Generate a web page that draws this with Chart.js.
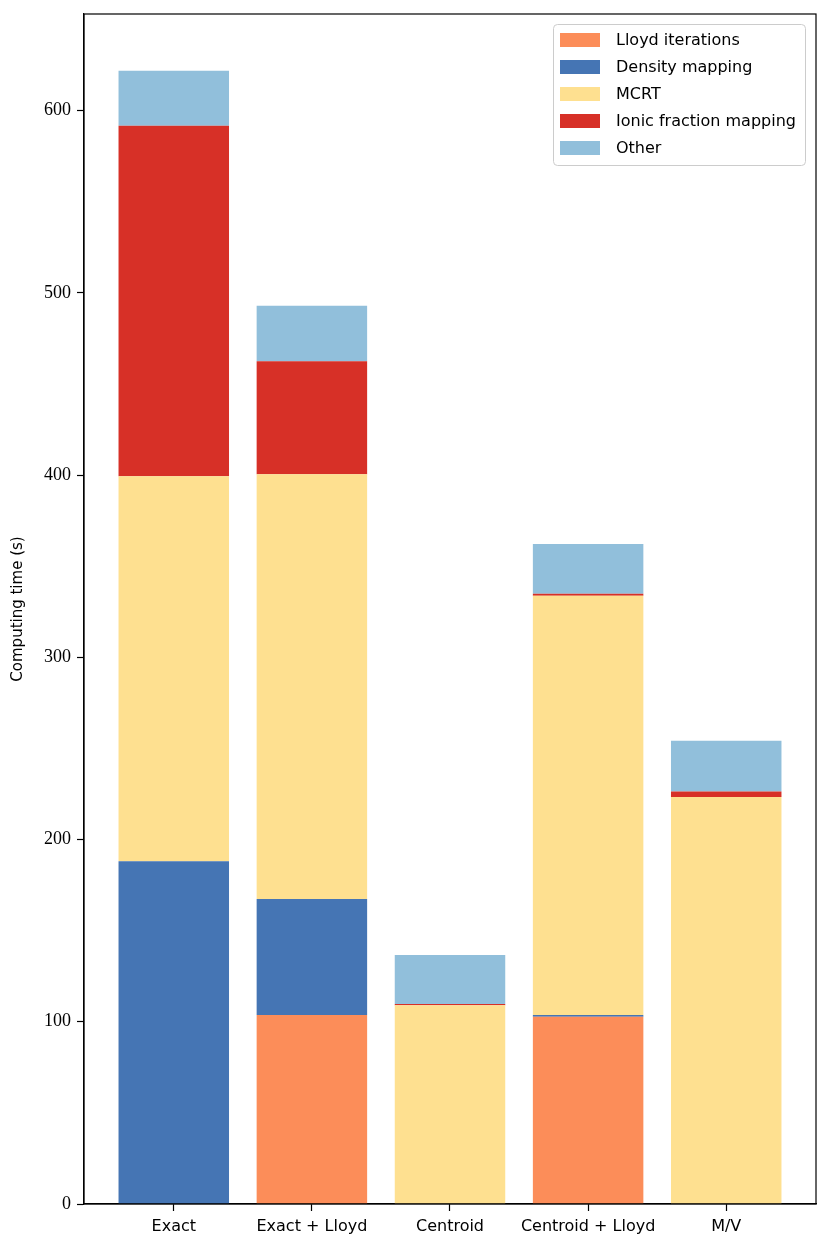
<!DOCTYPE html>
<html>
<head>
<meta charset="utf-8">
<script src="https://cdn.jsdelivr.net/npm/chart.js@4.4.0/dist/chart.umd.min.js"></script>
<style>
  html, body { margin: 0; padding: 0; background: #fff; }
  #chart { display: block; }
</style>
</head>
<body>
<canvas id="chart" width="830" height="1252"></canvas>
<script>
// categories along x
var categories = ["Exact", "Exact + Lloyd", "Centroid", "Centroid + Lloyd", "M/V"];

// computing time per stage (s), bottom to top
var lloydIterations = [0, 103.7, 0, 102.7, 0];
var densityMapping = [188.1, 63.7, 0.3, 1.0, 0];
var mcrt = [211.2, 233.1, 108.7, 230.1, 223.3];
var ionicFractionMapping = [192.4, 61.9, 0.8, 1.1, 3.0];
var other = [30.2, 30.5, 26.9, 27.2, 27.9];

var yTicks = [0, 100, 200, 300, 400, 500, 600];

function points(values) {
  return values.map(function (v, i) { return { x: i, y: v }; });
}

function series(label, values, color) {
  return {
    label: label,
    data: points(values),
    backgroundColor: color,
    borderWidth: 0,
    barPercentage: 0.8,
    categoryPercentage: 1.0
  };
}

var sansFont = "'DejaVu Sans', sans-serif";
var serifFont = "'Liberation Serif', 'DejaVu Serif', serif";

// black frame around the plot area (all four spines)
var framePlugin = {
  id: 'frame',
  afterDraw: function (chart) {
    var a = chart.chartArea, ctx = chart.ctx;
    ctx.save();
    ctx.strokeStyle = '#000';
    ctx.lineWidth = 1.2;
    ctx.strokeRect(a.left, a.top, a.right - a.left, a.bottom - a.top);
    ctx.restore();
  }
};

// matplotlib-style legend box in the upper right corner
var legendBoxPlugin = {
  id: 'legendBox',
  afterDraw: function (chart) {
    var ctx = chart.ctx, a = chart.chartArea;
    var sets = chart.data.datasets;
    var boxW = 252, boxH = 141;
    var x0 = a.right - 11 - boxW, y0 = a.top + 10;
    ctx.save();
    ctx.beginPath();
    ctx.roundRect(x0 + 0.5, y0 + 0.5, boxW, boxH, 4);
    ctx.fillStyle = 'rgba(255,255,255,0.8)';
    ctx.fill();
    ctx.strokeStyle = '#cccccc';
    ctx.lineWidth = 1;
    ctx.stroke();
    ctx.font = '16px ' + sansFont;
    ctx.textBaseline = 'middle';
    ctx.textAlign = 'left';
    sets.forEach(function (ds, i) {
      var cy = y0 + 16 + i * 27;
      ctx.fillStyle = ds.backgroundColor;
      ctx.fillRect(x0 + 7, cy - 7, 40, 14);
      ctx.fillStyle = '#000';
      ctx.fillText(ds.label, x0 + 63, cy + 1);
    });
    ctx.restore();
  }
};

var ctx = document.getElementById('chart').getContext('2d');
var chart = new Chart(ctx, {
  type: 'bar',
  data: {
    datasets: [
      series('Lloyd iterations', lloydIterations, '#fc8d59'),
      series('Density mapping', densityMapping, '#4575b4'),
      series('MCRT', mcrt, '#fee090'),
      series('Ionic fraction mapping', ionicFractionMapping, '#d73027'),
      series('Other', other, '#91bfdb')
    ]
  },
  options: {
    responsive: false,
    animation: false,
    layout: { padding: { left: 0, right: 14, top: 14, bottom: 0 } },
    plugins: {
      legend: { display: false },
      tooltip: { enabled: false }
    },
    scales: {
      x: {
        type: 'linear',
        stacked: true,
        offset: false,
        min: -0.65,
        max: 4.65,
        afterFit: function (scale) { scale.height = 48; },
        afterBuildTicks: function (scale) {
          scale.ticks = categories.map(function (c, i) { return { value: i }; });
        },
        ticks: {
          autoSkip: false,
          maxRotation: 0,
          padding: 6,
          color: '#000',
          font: { family: sansFont, size: 16 },
          callback: function (v) { return categories[v]; }
        },
        grid: { offset: false, drawOnChartArea: false, color: '#000', tickLength: 7, tickWidth: 1.2 },
        border: { color: '#000', width: 1.2 }
      },
      y: {
        stacked: true,
        min: 0,
        max: 653,
        afterFit: function (scale) { scale.width = 84; },
        afterBuildTicks: function (scale) {
          scale.ticks = yTicks.map(function (v) { return { value: v }; });
        },
        ticks: {
          padding: 6,
          color: '#000',
          font: { family: serifFont, size: 18, lineHeight: 0.8 }
        },
        grid: { drawOnChartArea: false, color: '#000', tickLength: 7, tickWidth: 1.2 },
        border: { color: '#000', width: 1.2 },
        title: {
          display: true,
          text: 'Computing time (s)',
          color: '#000',
          font: { family: sansFont, size: 15 },
          padding: { top: 9, bottom: 0 }
        }
      }
    }
  },
  plugins: [framePlugin, legendBoxPlugin]
});
</script>
</body>
</html>
